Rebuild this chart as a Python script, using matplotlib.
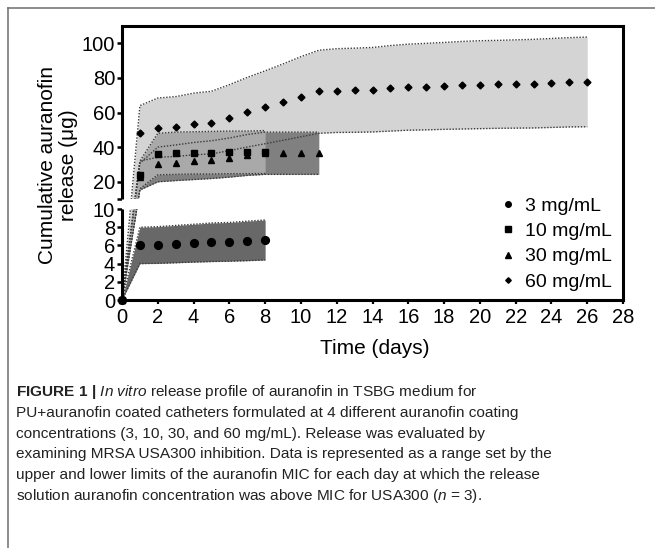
import numpy as np
import matplotlib
matplotlib.use('Agg')
import matplotlib.pyplot as plt
from matplotlib.lines import Line2D
from matplotlib.patches import Rectangle

plt.rcParams['font.family'] = ['Liberation Sans', 'DejaVu Sans']
plt.rcParams['mathtext.fontset'] = 'custom'
plt.rcParams['mathtext.rm'] = 'Liberation Sans'
plt.rcParams['mathtext.it'] = 'Liberation Sans:italic'
plt.rcParams['mathtext.bf'] = 'Liberation Sans:bold'

# ---------------- data ----------------
days_3 = [0, 1, 2, 3, 4, 5, 6, 7, 8]
mean_3 = [0, 6.0, 6.05, 6.15, 6.25, 6.35, 6.4, 6.5, 6.6]
low_3 = [0, 4.0, 4.03, 4.1, 4.17, 4.23, 4.27, 4.33, 4.4]
high_3 = [0, 8.0, 8.07, 8.2, 8.33, 8.47, 8.53, 8.67, 8.8]

days_10 = [0, 1, 2, 3, 4, 5, 6, 7, 8]
mean_10 = [0, 24, 36, 36.5, 36.7, 36.8, 37, 37, 37.2]
low_10 = [0, 16, 24, 24.3, 24.5, 24.5, 24.7, 24.7, 24.8]
high_10 = [0, 32, 48, 48.7, 48.9, 49.1, 49.3, 49.3, 49.6]

days_30 = [0, 1, 2, 3, 4, 5, 6, 7, 8, 9, 10, 11]
mean_30 = [0, 23, 30, 31, 32, 32.8, 34, 35.5, 36.5, 36.5, 36.5, 36.5]
low_30 = [0, 15.3, 20, 20.7, 21.3, 21.9, 22.7, 23.7, 24.3, 24.3, 24.3, 24.3]
high_30 = [0, 30.7, 40, 41.3, 42.7, 43.7, 45.3, 47.3, 48.7, 48.7, 48.7, 48.7]

days_60 = [0, 1, 2, 3, 4, 5, 6, 7, 8, 9, 10, 11, 12, 13, 14, 15, 16, 17, 18,
           19, 20, 21, 22, 23, 24, 25, 26]
mean_60 = [0, 48.1, 51.3, 51.9, 53.4, 54.2, 57.1, 60.2, 63.1, 66.1, 69.1, 72.2,
           72.7, 72.9, 73.2, 74.0, 74.6, 75.0, 75.4, 75.8, 76.1, 76.3, 76.5,
           76.7, 77.1, 77.5, 77.7]
low_60 = [0, 32, 34.2, 34.6, 35.6, 36.1, 38, 40.1, 42, 44, 46, 48, 48.5, 48.6,
          48.8, 49.3, 49.8, 50, 50.3, 50.5, 50.7, 50.9, 51, 51.1, 51.4, 51.7, 51.8]
high_60 = [0, 64, 68.4, 69.2, 71.2, 72.3, 76.1, 80.3, 84.1, 88.1, 92.3, 96,
           96.9, 97.2, 97.6, 98.7, 99.5, 100, 100.5, 101.1, 101.5, 101.7, 102,
           102.3, 102.8, 103.3, 103.6]

labels = ['3 mg/mL', '10 mg/mL', '30 mg/mL', '60 mg/mL']
x_ticks = list(range(0, 29, 2))
y_ticks = [0, 2, 4, 6, 8, 10, 20, 40, 60, 80, 100]

caption_lines = [
    r"$\mathbf{FIGURE\ 1\ |}$ $\mathit{In\ vitro}$ release profile of auranofin in TSBG medium for",
    "PU+auranofin coated catheters formulated at 4 different auranofin coating",
    "concentrations (3, 10, 30, and 60 mg/mL). Release was evaluated by",
    "examining MRSA USA300 inhibition. Data is represented as a range set by the",
    "upper and lower limits of the auranofin MIC for each day at which the release",
    r"solution auranofin concentration was above MIC for USA300 ($\mathit{n}$ = 3).",
]

# ---------------- figure ----------------
W, H = 655, 548
fig = plt.figure(figsize=(W / 100, H / 100), dpi=100)

def fx(px):
    return px / W

def fy(py):
    return 1 - py / H

ax = fig.add_axes([fx(122), fy(300), (623 - 122) / W, (300 - 26) / H])

# broken y scale: 0-10 at 9.1 px/unit, gap 10 px, 10-110 at 1.733 px/unit
K = 1.733 / 9.1
G = 10 / 9.1

def fwd(y):
    y = np.asarray(y, dtype=float)
    return np.where(y <= 10, y, 10 + G + (y - 10) * K)

def inv(s):
    s = np.asarray(s, dtype=float)
    return np.where(s <= 10, s, np.where(s >= 10 + G, 10 + (s - 10 - G) / K, 10))

ax.set_yscale('function', functions=(fwd, inv))
ax.set_xlim(0, 28)
ax.set_ylim(0, 110)

c_light = '#d4d4d4'
c_med = '#a9a9a9'
c_dark = '#808080'
c_3 = '#686868'
edge_kw = dict(color='#3a3a3a', lw=1.0, ls=(0, (1, 1.2)), zorder=3)

ax.fill_between(days_60, low_60, high_60, color=c_light, lw=0, zorder=1)
ax.fill_between(days_30, low_30, high_30, color=c_dark, lw=0, zorder=1.1)
ax.fill_between(days_10, low_10, high_10, color=c_med, lw=0, zorder=1.2)
ax.fill_between(days_3, low_3, high_3, color=c_3, lw=0, zorder=1.3)

for d, lo, hi in [(days_60, low_60, high_60), (days_30, low_30, high_30),
                  (days_10, low_10, high_10), (days_3, low_3, high_3)]:
    ax.plot(d, lo, **edge_kw)
    ax.plot(d, hi, **edge_kw)

# white gap for axis break
ax.add_patch(Rectangle((0, 10), 28, 1e-6, facecolor='white', edgecolor='none',
                       zorder=3.5))

ax.plot(days_60, mean_60, ls='none', marker='D', ms=3.5, color='k', zorder=4.1,
        clip_on=False)
ax.plot(days_30, mean_30, ls='none', marker='^', ms=5.0, color='k', zorder=4.2,
        clip_on=False)
ax.plot(days_10, mean_10, ls='none', marker='s', ms=5.0, color='k', zorder=4.3,
        clip_on=False)
ax.plot(days_3, mean_3, ls='none', marker='o', ms=5.6, color='k', zorder=7,
        clip_on=False)

# spines
spine_lw = 2.2
for s in ['top', 'right', 'bottom']:
    ax.spines[s].set_linewidth(spine_lw)
    ax.spines[s].set_zorder(5)
ax.spines['left'].set_visible(False)
ytr = ax.get_yaxis_transform()
ax.plot([0, 0], [0, 10], transform=ytr, color='k', lw=spine_lw, clip_on=False,
        solid_capstyle='butt', zorder=6)
ax.plot([0, 0], [10.00001, 110], transform=ytr, color='k', lw=spine_lw,
        clip_on=False, solid_capstyle='butt', zorder=6)

ax.set_xticks(x_ticks)
ax.set_yticks(y_ticks)
ax.set_yticks([10.00001], minor=True)
ax.tick_params(axis='y', which='major', direction='out', length=3.4, width=1.8,
               labelsize=14.5, pad=1.5)
ax.tick_params(axis='y', which='minor', direction='out', length=3.4, width=1.8,
               labelleft=False)
ax.tick_params(axis='x', direction='out', length=3.0, width=1.6, labelsize=14.5,
               pad=2.5)

fig.text(fx(58), fy(165.5), 'Cumulative auranofin\nrelease (μg)', rotation=90,
         ha='center', va='center', multialignment='center', fontsize=15,
         linespacing=1.15)
fig.text(fx(375), fy(353.5), 'Time (days)', ha='center', va='baseline',
         fontsize=15)

handles = [
    Line2D([], [], ls='none', marker='o', ms=4.0, color='k'),
    Line2D([], [], ls='none', marker='s', ms=3.8, color='k'),
    Line2D([], [], ls='none', marker='^', ms=4.0, color='k'),
    Line2D([], [], ls='none', marker='D', ms=2.8, color='k'),
]
fig.legend(handles, labels, loc='upper left', bbox_to_anchor=(fx(500), fy(197)),
           bbox_transform=fig.transFigure, frameon=False, fontsize=14,
           handlelength=0.8, handletextpad=0.5, labelspacing=0.4,
           borderpad=0, borderaxespad=0, numpoints=1)

# frame lines
fig.add_artist(Line2D([fx(8), 1], [fy(8), fy(8)], transform=fig.transFigure,
                      color='#6e6e6e', lw=1.1))
fig.add_artist(Line2D([fx(8), fx(8)], [0, fy(8)], transform=fig.transFigure,
                      color='#6e6e6e', lw=1.1))

# caption
baselines = [396, 416.8, 437.6, 458.4, 479.2, 500]
for line, b in zip(caption_lines, baselines):
    fig.text(fx(15.5), fy(b), line, ha='left', va='baseline', fontsize=11.1,
             color='#222222')

fig.savefig('out.png', dpi=100)
